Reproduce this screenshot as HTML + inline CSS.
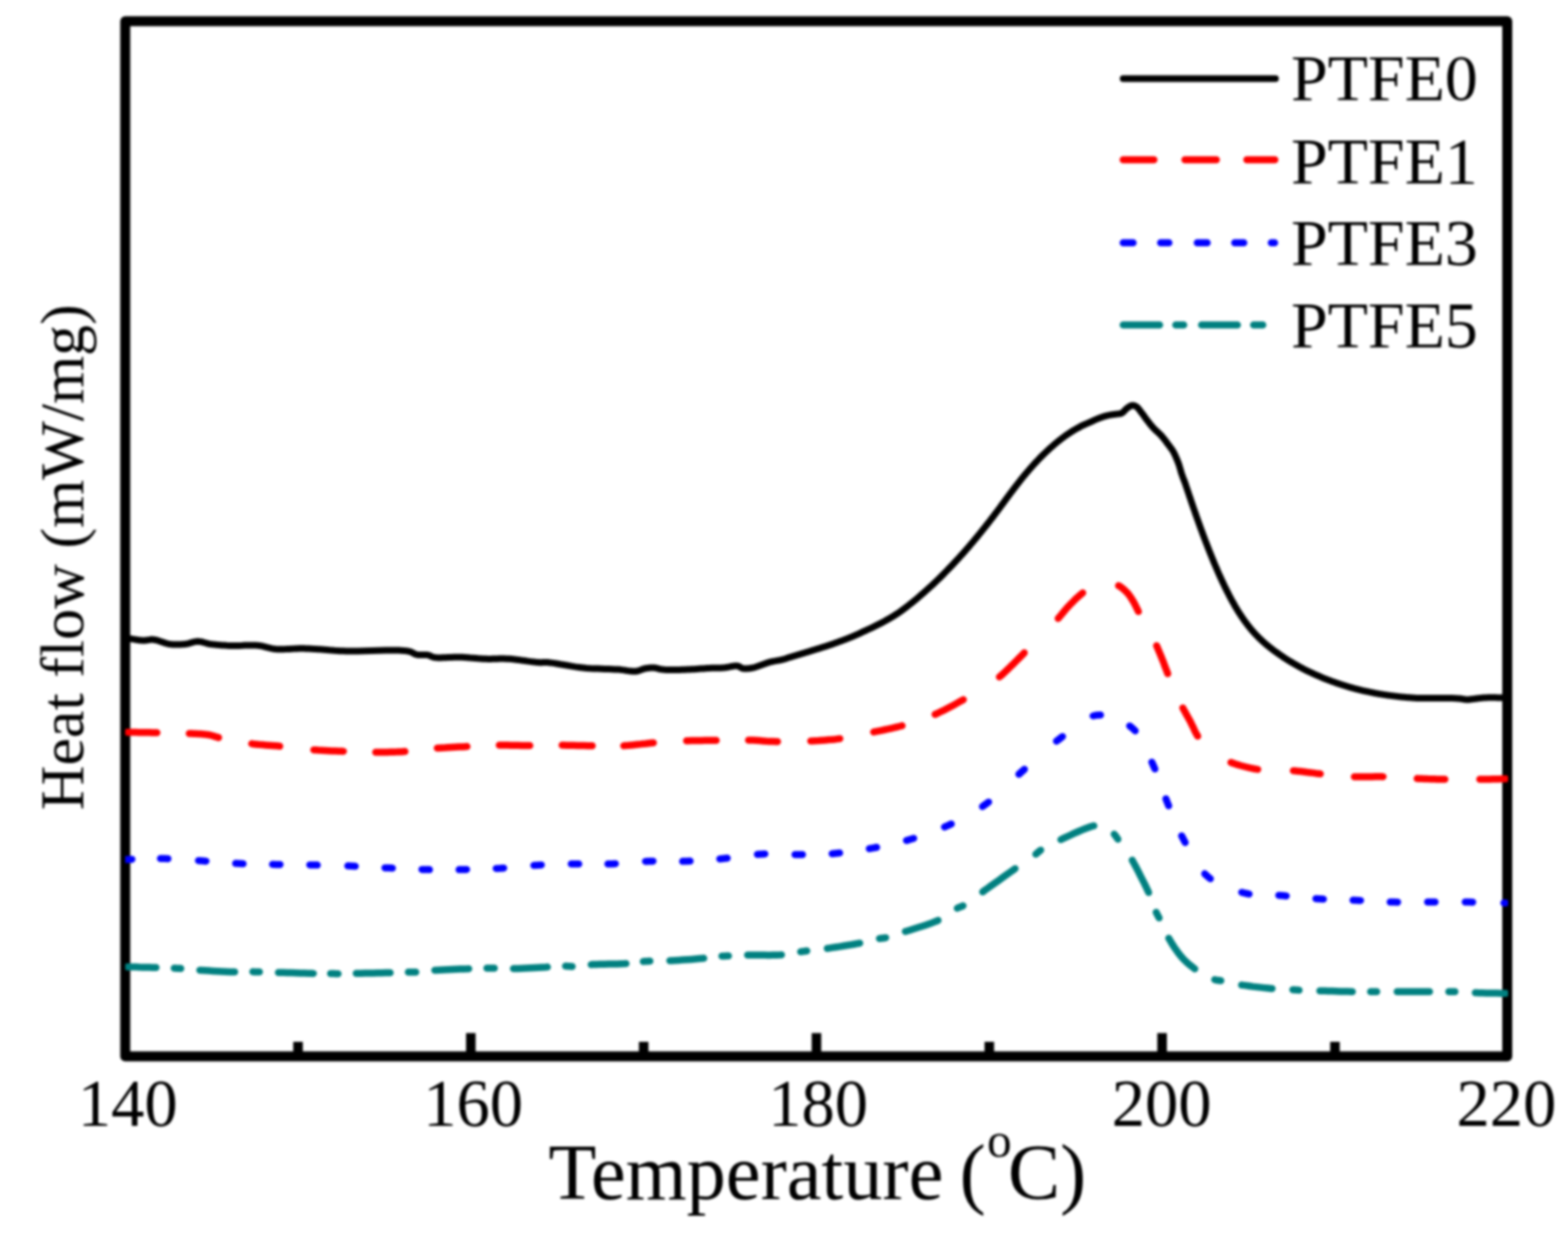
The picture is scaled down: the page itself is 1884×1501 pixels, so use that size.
<!DOCTYPE html>
<html><head><meta charset="utf-8"><title>Heat flow vs Temperature</title>
<style>
html,body{margin:0;padding:0;background:#fff;}
body{width:1884px;height:1501px;overflow:hidden;}
svg{display:block;filter:blur(1.8px);}
text{font-family:"Liberation Serif","Times New Roman",serif;fill:#000;}
</style></head>
<body>
<svg width="1884" height="1501" viewBox="0 0 1884 1501">
<rect x="0" y="0" width="1884" height="1501" fill="#fff"/>
<g fill="none" stroke="#000" stroke-linecap="round" stroke-linejoin="round">
<rect x="150.5" y="25.6" width="1660.5" height="1243.9" stroke-width="12"/>
<path d="M565.7 1269.5V1241.5M981 1269.5V1241.5M1396.3 1269.5V1241.5M358.1 1269.5V1252M773.4 1269.5V1252M1188.7 1269.5V1252M1604 1269.5V1252" stroke-width="11.5" stroke-linecap="butt"/>
</g>

<defs><clipPath id="pc"><rect x="150.5" y="0" width="1661.5" height="1501"/></clipPath></defs>
<g fill="none" stroke-linecap="round" stroke-linejoin="round" clip-path="url(#pc)">
<path d="M150.5 767.5 L151.0 767.5 L151.6 767.5 L152.1 767.5 L152.6 767.5 L153.1 767.5 L153.6 767.5 L154.1 767.5 L154.7 767.5 L155.3 767.6 L156.0 767.6 L157.3 767.7 L158.7 767.9 L160.2 768.2 L161.8 768.4 L163.5 768.7 L165.2 769.0 L166.9 769.2 L168.6 769.5 L170.2 769.6 L171.8 769.7 L173.1 769.7 L174.4 769.6 L175.7 769.5 L176.9 769.3 L178.1 769.1 L179.4 768.9 L180.6 768.7 L181.9 768.6 L183.2 768.6 L184.6 768.7 L186.4 769.0 L188.2 769.4 L190.1 769.9 L192.0 770.6 L193.9 771.2 L195.9 771.9 L197.8 772.6 L199.8 773.2 L201.8 773.7 L203.7 774.0 L205.6 774.2 L207.5 774.4 L209.5 774.5 L211.4 774.6 L213.4 774.6 L215.3 774.5 L217.2 774.4 L219.1 774.3 L221.0 774.2 L222.8 774.0 L224.4 773.8 L225.9 773.5 L227.4 773.1 L228.9 772.6 L230.4 772.2 L231.8 771.8 L233.3 771.4 L234.8 771.1 L236.2 770.9 L237.7 770.8 L239.2 770.9 L240.6 771.1 L242.0 771.3 L243.4 771.7 L244.8 772.1 L246.3 772.5 L247.8 772.9 L249.3 773.4 L250.9 773.7 L252.5 774.0 L254.8 774.3 L257.1 774.6 L259.5 774.8 L262.1 775.1 L264.6 775.3 L267.3 775.5 L269.9 775.6 L272.6 775.8 L275.3 775.9 L278.0 776.0 L281.1 776.1 L284.3 776.0 L287.5 775.9 L290.8 775.8 L294.2 775.6 L297.5 775.5 L300.7 775.4 L303.9 775.4 L307.0 775.5 L309.9 775.7 L312.2 776.0 L314.3 776.4 L316.4 776.8 L318.4 777.3 L320.4 777.9 L322.4 778.4 L324.5 778.9 L326.6 779.4 L328.7 779.7 L331.0 780.0 L334.0 780.2 L337.1 780.2 L340.3 780.2 L343.6 780.1 L347.0 779.9 L350.4 779.7 L353.7 779.6 L356.9 779.4 L360.0 779.3 L363.0 779.3 L365.3 779.3 L367.4 779.4 L369.5 779.5 L371.5 779.6 L373.5 779.7 L375.5 779.8 L377.5 779.9 L379.6 780.0 L381.7 780.2 L384.0 780.3 L386.9 780.5 L389.8 780.7 L392.7 780.9 L395.7 781.2 L398.8 781.4 L401.9 781.7 L405.2 781.9 L408.6 782.2 L412.2 782.3 L416.0 782.5 L422.5 782.6 L429.9 782.5 L438.0 782.3 L446.6 782.1 L455.2 781.8 L463.7 781.6 L471.7 781.5 L479.0 781.6 L485.2 781.9 L490.0 782.5 L491.5 782.8 L492.9 783.2 L494.0 783.7 L495.1 784.2 L496.1 784.7 L497.0 785.2 L497.9 785.6 L498.9 786.1 L499.9 786.4 L501.0 786.7 L502.2 786.9 L503.5 787.0 L504.8 787.0 L506.1 787.0 L507.5 786.9 L508.8 786.9 L510.1 786.9 L511.3 786.9 L512.5 786.9 L513.7 787.1 L514.6 787.3 L515.4 787.6 L516.2 787.9 L516.9 788.2 L517.6 788.5 L518.4 788.9 L519.2 789.2 L520.0 789.5 L521.0 789.8 L522.0 790.0 L524.2 790.3 L526.7 790.4 L529.5 790.4 L532.5 790.3 L535.7 790.2 L538.9 790.0 L542.2 789.9 L545.5 789.7 L548.7 789.7 L551.8 789.7 L555.0 789.8 L558.1 790.0 L561.4 790.2 L564.6 790.5 L567.8 790.7 L571.1 791.0 L574.3 791.3 L577.4 791.5 L580.6 791.7 L583.7 791.8 L586.5 791.9 L589.3 791.9 L592.0 791.8 L594.7 791.8 L597.4 791.7 L600.1 791.6 L602.8 791.6 L605.6 791.6 L608.4 791.7 L611.3 791.8 L614.8 792.1 L618.6 792.5 L622.5 792.9 L626.4 793.5 L630.4 794.0 L634.3 794.6 L638.0 795.1 L641.5 795.5 L644.6 795.9 L647.4 796.1 L648.7 796.2 L649.8 796.2 L650.8 796.2 L651.8 796.1 L652.7 796.1 L653.6 796.0 L654.5 796.0 L655.5 796.0 L656.7 796.0 L658.0 796.1 L661.1 796.4 L664.7 796.9 L668.7 797.5 L673.0 798.3 L677.5 799.0 L682.1 799.8 L686.8 800.6 L691.5 801.4 L696.1 802.0 L700.5 802.5 L704.8 802.9 L709.2 803.2 L713.7 803.4 L718.2 803.6 L722.7 803.8 L727.1 803.9 L731.3 804.0 L735.4 804.2 L739.4 804.4 L743.0 804.6 L745.4 804.8 L747.8 805.1 L750.1 805.4 L752.3 805.8 L754.4 806.1 L756.5 806.4 L758.5 806.6 L760.4 806.8 L762.2 806.8 L764.0 806.7 L765.2 806.5 L766.4 806.3 L767.5 806.0 L768.6 805.6 L769.6 805.2 L770.7 804.8 L771.7 804.4 L772.7 804.1 L773.7 803.7 L774.8 803.5 L775.9 803.3 L776.9 803.1 L778.0 803.0 L779.0 802.8 L780.1 802.7 L781.2 802.6 L782.2 802.5 L783.3 802.5 L784.3 802.5 L785.4 802.5 L786.4 802.6 L787.4 802.7 L788.4 803.0 L789.4 803.2 L790.4 803.5 L791.4 803.7 L792.4 804.0 L793.5 804.2 L794.7 804.4 L796.0 804.6 L798.4 804.8 L801.0 804.9 L803.8 805.0 L806.9 805.0 L810.0 805.0 L813.2 804.9 L816.4 804.9 L819.6 804.8 L822.7 804.7 L825.7 804.6 L828.5 804.5 L831.3 804.3 L834.1 804.2 L836.9 804.0 L839.7 803.8 L842.4 803.6 L845.1 803.4 L847.7 803.2 L850.3 803.0 L852.7 802.9 L854.6 802.8 L856.4 802.8 L858.1 802.8 L859.8 802.8 L861.5 802.8 L863.1 802.8 L864.8 802.7 L866.4 802.7 L868.0 802.6 L869.7 802.5 L871.4 802.3 L873.1 802.0 L874.8 801.7 L876.6 801.4 L878.3 801.0 L880.0 800.7 L881.6 800.4 L883.1 800.3 L884.6 800.2 L885.9 800.3 L886.7 800.5 L887.4 800.7 L888.1 801.0 L888.8 801.4 L889.4 801.8 L890.0 802.2 L890.6 802.5 L891.2 802.8 L891.9 803.1 L892.7 803.3 L893.7 803.4 L894.8 803.5 L895.9 803.5 L897.0 803.5 L898.2 803.4 L899.4 803.3 L900.6 803.2 L901.9 803.0 L903.2 802.7 L904.5 802.5 L906.3 802.1 L908.3 801.5 L910.3 800.8 L912.4 800.1 L914.6 799.3 L916.7 798.5 L918.8 797.7 L920.9 796.9 L922.9 796.3 L924.9 795.7 L926.5 795.3 L928.1 795.0 L929.7 794.6 L931.2 794.4 L932.8 794.1 L934.3 793.8 L935.8 793.6 L937.2 793.3 L938.6 793.0 L940.0 792.7 L941.1 792.4 L942.1 792.1 L943.2 791.8 L944.2 791.5 L945.1 791.2 L946.1 790.9 L947.1 790.5 L948.0 790.2 L949.0 789.9 L950.0 789.6 L951.0 789.3 L952.0 789.0 L953.0 788.7 L954.0 788.4 L955.0 788.1 L956.0 787.8 L957.0 787.5 L958.0 787.2 L959.0 786.9 L960.0 786.6 L961.0 786.3 L962.0 786.0 L963.0 785.7 L964.0 785.4 L965.0 785.1 L966.0 784.8 L967.0 784.5 L968.0 784.2 L969.0 783.9 L970.0 783.6 L971.0 783.3 L972.0 783.0 L973.0 782.7 L974.0 782.4 L975.0 782.1 L976.0 781.7 L977.0 781.4 L978.0 781.1 L979.0 780.8 L980.0 780.5 L981.0 780.2 L982.0 779.9 L983.0 779.6 L984.0 779.3 L985.0 779.0 L986.0 778.7 L987.0 778.3 L988.0 778.0 L989.0 777.7 L990.0 777.4 L991.0 777.1 L992.0 776.8 L993.0 776.4 L994.0 776.1 L995.0 775.8 L996.0 775.4 L997.0 775.1 L998.0 774.8 L999.0 774.4 L1000.0 774.1 L1001.0 773.8 L1002.0 773.4 L1003.0 773.0 L1004.0 772.7 L1005.0 772.3 L1006.0 772.0 L1007.0 771.6 L1008.0 771.2 L1009.0 770.9 L1010.0 770.5 L1011.0 770.1 L1012.0 769.8 L1013.0 769.4 L1014.0 769.0 L1015.0 768.6 L1016.0 768.3 L1017.0 767.9 L1018.0 767.5 L1019.0 767.1 L1020.0 766.7 L1021.0 766.3 L1022.0 765.9 L1023.0 765.5 L1024.0 765.1 L1025.0 764.7 L1026.0 764.2 L1027.0 763.8 L1028.0 763.4 L1029.0 762.9 L1030.0 762.5 L1031.0 762.0 L1032.0 761.6 L1033.0 761.1 L1034.0 760.6 L1035.0 760.2 L1036.0 759.7 L1037.0 759.2 L1038.0 758.7 L1039.0 758.3 L1040.0 757.8 L1041.0 757.3 L1042.0 756.9 L1043.0 756.4 L1044.0 756.0 L1045.0 755.5 L1046.0 755.1 L1047.0 754.6 L1048.0 754.1 L1049.0 753.7 L1050.0 753.2 L1051.0 752.7 L1052.0 752.2 L1053.0 751.7 L1054.0 751.2 L1055.0 750.7 L1056.0 750.2 L1057.0 749.7 L1058.0 749.2 L1059.0 748.6 L1060.0 748.1 L1061.0 747.6 L1062.0 747.0 L1063.0 746.5 L1064.0 745.9 L1065.0 745.4 L1066.0 744.8 L1067.0 744.2 L1068.0 743.7 L1069.0 743.1 L1070.0 742.5 L1071.0 741.9 L1072.0 741.3 L1073.0 740.7 L1074.0 740.1 L1075.0 739.4 L1076.0 738.8 L1077.0 738.2 L1078.0 737.5 L1079.0 736.9 L1080.0 736.2 L1081.0 735.5 L1082.0 734.8 L1083.0 734.1 L1084.0 733.3 L1085.0 732.6 L1086.0 731.8 L1087.0 731.1 L1088.0 730.3 L1089.0 729.6 L1090.0 728.8 L1091.0 728.0 L1092.0 727.2 L1093.0 726.5 L1094.0 725.7 L1095.0 724.9 L1096.0 724.1 L1097.0 723.3 L1098.0 722.4 L1099.0 721.6 L1100.0 720.8 L1101.0 720.0 L1102.0 719.1 L1103.0 718.3 L1104.0 717.4 L1105.0 716.5 L1106.0 715.7 L1107.0 714.8 L1108.0 713.9 L1109.0 713.1 L1110.0 712.2 L1111.0 711.3 L1112.0 710.4 L1113.0 709.5 L1114.0 708.6 L1115.0 707.7 L1116.0 706.8 L1117.0 705.9 L1118.0 705.0 L1119.0 704.1 L1120.0 703.2 L1121.0 702.3 L1122.0 701.3 L1123.0 700.4 L1124.0 699.4 L1125.0 698.5 L1126.0 697.5 L1127.0 696.5 L1128.0 695.6 L1129.0 694.6 L1130.0 693.6 L1131.0 692.6 L1132.0 691.6 L1133.0 690.6 L1134.0 689.6 L1135.0 688.5 L1136.0 687.5 L1137.0 686.5 L1138.0 685.5 L1139.0 684.4 L1140.0 683.4 L1141.0 682.4 L1142.0 681.3 L1143.0 680.3 L1144.0 679.2 L1145.0 678.1 L1146.0 677.1 L1147.0 676.0 L1148.0 674.9 L1149.0 673.9 L1150.0 672.8 L1151.0 671.7 L1152.0 670.6 L1153.0 669.5 L1154.0 668.4 L1155.0 667.3 L1156.0 666.2 L1157.0 665.1 L1158.0 664.0 L1159.0 662.8 L1160.0 661.7 L1161.0 660.5 L1162.0 659.4 L1163.0 658.2 L1164.0 657.1 L1165.0 655.9 L1166.0 654.7 L1167.0 653.5 L1168.0 652.4 L1169.0 651.2 L1170.0 650.0 L1171.0 648.8 L1172.0 647.6 L1173.0 646.4 L1174.0 645.2 L1175.0 643.9 L1176.0 642.7 L1177.0 641.5 L1178.0 640.3 L1179.0 639.0 L1180.0 637.8 L1181.0 636.5 L1182.0 635.3 L1183.0 634.0 L1184.0 632.8 L1185.0 631.5 L1186.0 630.2 L1187.0 628.9 L1188.0 627.7 L1189.0 626.4 L1190.0 625.1 L1191.0 623.8 L1192.0 622.5 L1193.0 621.2 L1194.0 619.9 L1195.0 618.5 L1196.0 617.2 L1197.0 615.9 L1198.0 614.6 L1199.0 613.2 L1200.0 611.9 L1201.0 610.6 L1202.0 609.2 L1203.0 607.8 L1204.0 606.5 L1205.0 605.1 L1206.0 603.7 L1207.0 602.4 L1208.0 601.0 L1209.0 599.7 L1210.0 598.3 L1211.0 597.0 L1212.0 595.6 L1213.0 594.3 L1214.0 592.9 L1215.0 591.6 L1216.0 590.3 L1217.0 589.0 L1218.0 587.6 L1219.0 586.3 L1220.0 585.0 L1221.0 583.7 L1222.0 582.4 L1223.0 581.1 L1224.0 579.9 L1225.0 578.6 L1226.0 577.3 L1227.0 576.0 L1228.0 574.8 L1229.0 573.5 L1230.0 572.3 L1231.0 571.1 L1232.0 569.9 L1233.0 568.7 L1234.0 567.5 L1235.0 566.4 L1236.0 565.2 L1237.0 564.0 L1238.0 562.9 L1239.0 561.7 L1240.0 560.6 L1241.0 559.5 L1242.0 558.4 L1243.0 557.3 L1244.0 556.2 L1245.0 555.2 L1246.0 554.1 L1247.0 553.0 L1248.0 552.0 L1249.0 550.9 L1250.0 549.9 L1251.0 548.9 L1252.0 547.9 L1253.0 546.9 L1254.0 545.9 L1255.0 545.0 L1256.0 544.0 L1257.0 543.0 L1258.0 542.1 L1259.0 541.1 L1260.0 540.2 L1261.0 539.3 L1262.0 538.4 L1263.0 537.5 L1264.0 536.6 L1265.0 535.8 L1266.0 534.9 L1267.0 534.0 L1268.0 533.2 L1269.0 532.3 L1270.0 531.5 L1271.0 530.7 L1272.0 529.9 L1273.0 529.1 L1274.0 528.3 L1275.0 527.5 L1276.0 526.8 L1277.0 526.0 L1278.0 525.3 L1279.0 524.5 L1280.0 523.8 L1281.0 523.1 L1282.0 522.4 L1283.0 521.7 L1284.0 521.0 L1285.0 520.4 L1286.0 519.7 L1287.0 519.1 L1288.0 518.4 L1289.0 517.8 L1290.0 517.2 L1291.0 516.6 L1292.0 516.0 L1293.0 515.5 L1294.0 514.9 L1295.0 514.3 L1296.0 513.8 L1297.0 513.3 L1298.0 512.7 L1299.0 512.2 L1300.0 511.7 L1301.0 511.2 L1302.0 510.7 L1303.0 510.3 L1304.0 509.8 L1305.0 509.4 L1306.0 509.0 L1307.0 508.5 L1308.0 508.1 L1309.0 507.6 L1310.0 507.2 L1311.0 506.8 L1312.0 506.3 L1313.0 505.8 L1314.0 505.4 L1315.0 504.9 L1316.0 504.5 L1317.0 504.0 L1318.0 503.6 L1319.0 503.2 L1320.0 502.8 L1321.0 502.4 L1322.0 502.1 L1323.0 501.7 L1324.0 501.3 L1325.0 501.0 L1326.0 500.7 L1327.0 500.3 L1328.0 500.0 L1329.0 499.8 L1330.0 499.5 L1331.0 499.3 L1332.0 499.1 L1333.0 498.9 L1334.0 498.7 L1335.1 498.5 L1336.1 498.4 L1337.1 498.2 L1338.1 498.1 L1339.1 498.0 L1340.0 497.8 L1340.8 497.7 L1341.6 497.6 L1342.4 497.5 L1343.2 497.5 L1344.0 497.4 L1344.8 497.3 L1345.5 497.2 L1346.3 497.0 L1347.0 496.8 L1347.7 496.5 L1348.4 496.1 L1349.1 495.6 L1349.8 495.0 L1350.4 494.3 L1351.1 493.6 L1351.7 492.9 L1352.4 492.3 L1353.0 491.6 L1353.6 491.0 L1354.3 490.5 L1354.9 490.1 L1355.5 489.7 L1356.1 489.2 L1356.7 488.8 L1357.3 488.5 L1357.9 488.1 L1358.5 487.8 L1359.1 487.6 L1359.7 487.4 L1360.3 487.3 L1360.8 487.3 L1361.3 487.3 L1361.9 487.3 L1362.4 487.4 L1362.9 487.5 L1363.4 487.7 L1363.9 487.9 L1364.4 488.1 L1364.9 488.4 L1365.4 488.7 L1366.1 489.2 L1366.8 489.8 L1367.4 490.5 L1368.1 491.3 L1368.7 492.1 L1369.4 493.0 L1370.0 493.9 L1370.7 494.8 L1371.3 495.6 L1372.0 496.5 L1372.7 497.4 L1373.4 498.3 L1374.1 499.3 L1374.8 500.3 L1375.5 501.2 L1376.2 502.2 L1376.9 503.2 L1377.6 504.1 L1378.3 505.1 L1379.0 506.0 L1379.7 506.9 L1380.4 507.7 L1381.0 508.6 L1381.7 509.5 L1382.4 510.3 L1383.1 511.1 L1383.8 512.0 L1384.5 512.8 L1385.2 513.7 L1386.0 514.5 L1386.9 515.4 L1387.8 516.3 L1388.7 517.2 L1389.6 518.1 L1390.6 518.9 L1391.6 519.8 L1392.5 520.7 L1393.5 521.6 L1394.4 522.5 L1395.3 523.5 L1396.2 524.5 L1397.0 525.5 L1397.9 526.6 L1398.7 527.6 L1399.6 528.7 L1400.4 529.8 L1401.2 530.8 L1402.0 531.9 L1402.7 533.0 L1403.5 534.0 L1404.2 534.9 L1404.9 535.8 L1405.6 536.7 L1406.2 537.6 L1406.9 538.5 L1407.5 539.4 L1408.2 540.3 L1408.8 541.3 L1409.4 542.3 L1410.0 543.3 L1410.7 544.5 L1411.3 545.8 L1412.0 547.2 L1412.6 548.6 L1413.2 550.0 L1413.8 551.4 L1414.4 552.8 L1414.9 554.2 L1415.5 555.6 L1416.0 557.0 L1416.5 558.3 L1416.9 559.6 L1417.3 560.9 L1417.7 562.3 L1418.1 563.6 L1418.5 564.9 L1418.8 566.2 L1419.2 567.5 L1419.6 568.8 L1420.0 570.0 L1420.4 571.1 L1420.8 572.2 L1421.1 573.2 L1421.5 574.2 L1421.9 575.2 L1422.3 576.2 L1422.7 577.3 L1423.1 578.4 L1423.6 579.6 L1424.0 580.8 L1424.7 582.8 L1425.4 585.0 L1426.2 587.3 L1427.0 589.7 L1427.8 592.1 L1428.7 594.7 L1429.5 597.2 L1430.4 599.7 L1431.2 602.2 L1432.0 604.6 L1432.8 606.9 L1433.6 609.2 L1434.4 611.5 L1435.2 613.8 L1436.0 616.1 L1436.8 618.4 L1437.6 620.7 L1438.4 623.0 L1439.2 625.2 L1440.0 627.5 L1440.8 629.7 L1441.6 631.9 L1442.4 634.1 L1443.2 636.3 L1444.0 638.4 L1444.8 640.6 L1445.6 642.8 L1446.4 644.9 L1447.2 647.1 L1448.0 649.2 L1448.8 651.3 L1449.6 653.3 L1450.4 655.4 L1451.2 657.5 L1452.0 659.5 L1452.8 661.5 L1453.6 663.6 L1454.4 665.6 L1455.2 667.6 L1456.0 669.6 L1456.8 671.5 L1457.6 673.4 L1458.4 675.4 L1459.2 677.3 L1460.0 679.2 L1460.8 681.0 L1461.6 682.9 L1462.4 684.8 L1463.2 686.7 L1464.0 688.5 L1464.8 690.3 L1465.6 692.0 L1466.4 693.8 L1467.2 695.5 L1468.0 697.3 L1468.8 699.0 L1469.6 700.7 L1470.4 702.4 L1471.2 704.1 L1472.0 705.8 L1472.8 707.4 L1473.6 709.0 L1474.4 710.6 L1475.2 712.2 L1476.0 713.7 L1476.8 715.3 L1477.6 716.8 L1478.4 718.4 L1479.2 719.9 L1480.0 721.4 L1480.8 722.8 L1481.6 724.2 L1482.4 725.6 L1483.2 727.0 L1483.9 728.4 L1484.8 729.8 L1485.6 731.1 L1486.4 732.5 L1487.2 733.8 L1488.0 735.1 L1488.8 736.3 L1489.6 737.6 L1490.4 738.8 L1491.2 740.0 L1491.9 741.2 L1492.8 742.4 L1493.6 743.6 L1494.4 744.7 L1495.2 745.9 L1496.0 747.0 L1496.8 748.1 L1497.6 749.1 L1498.4 750.2 L1499.2 751.2 L1500.0 752.2 L1500.8 753.3 L1501.6 754.3 L1502.4 755.3 L1503.2 756.2 L1504.0 757.2 L1504.8 758.1 L1505.6 759.0 L1506.4 759.9 L1507.2 760.8 L1508.0 761.6 L1508.8 762.5 L1509.6 763.3 L1510.4 764.2 L1511.2 765.0 L1512.0 765.8 L1512.8 766.6 L1513.6 767.4 L1514.4 768.1 L1515.2 768.9 L1516.0 769.7 L1516.8 770.4 L1517.6 771.1 L1518.4 771.9 L1519.2 772.6 L1520.0 773.3 L1520.8 774.0 L1521.6 774.7 L1522.4 775.3 L1523.2 776.0 L1524.0 776.6 L1524.8 777.3 L1525.6 777.9 L1526.4 778.5 L1527.2 779.2 L1528.0 779.8 L1528.8 780.4 L1529.6 781.0 L1530.4 781.6 L1531.2 782.2 L1532.0 782.8 L1532.8 783.3 L1533.6 783.9 L1534.4 784.5 L1535.2 785.0 L1536.0 785.6 L1536.8 786.2 L1537.6 786.7 L1538.4 787.3 L1539.2 787.8 L1540.0 788.4 L1540.8 788.9 L1541.6 789.5 L1542.4 790.0 L1543.2 790.6 L1544.0 791.1 L1544.8 791.6 L1545.6 792.1 L1546.4 792.6 L1547.2 793.1 L1548.0 793.6 L1548.8 794.1 L1549.6 794.6 L1550.4 795.0 L1551.2 795.5 L1552.0 796.0 L1552.8 796.5 L1553.6 796.9 L1554.4 797.4 L1555.2 797.9 L1556.0 798.3 L1556.8 798.8 L1557.6 799.2 L1558.4 799.7 L1559.2 800.2 L1560.0 800.6 L1560.8 801.0 L1561.6 801.5 L1562.4 801.9 L1563.2 802.4 L1564.0 802.8 L1564.8 803.2 L1565.6 803.7 L1566.4 804.1 L1567.2 804.5 L1568.0 804.9 L1568.8 805.3 L1569.6 805.7 L1570.4 806.1 L1571.2 806.5 L1572.0 806.8 L1572.8 807.2 L1573.6 807.6 L1574.4 808.0 L1575.2 808.3 L1576.0 808.7 L1576.8 809.1 L1577.6 809.4 L1578.4 809.8 L1579.2 810.2 L1580.0 810.5 L1580.8 810.9 L1581.6 811.2 L1582.4 811.6 L1583.2 811.9 L1584.0 812.3 L1584.8 812.6 L1585.6 813.0 L1586.4 813.3 L1587.2 813.7 L1588.0 814.0 L1588.8 814.4 L1589.6 814.7 L1590.4 815.0 L1591.2 815.4 L1592.0 815.7 L1592.8 816.0 L1593.6 816.3 L1594.4 816.6 L1595.2 816.9 L1596.0 817.2 L1596.8 817.5 L1597.6 817.8 L1598.4 818.1 L1599.2 818.4 L1600.0 818.7 L1600.8 819.0 L1601.6 819.3 L1602.4 819.6 L1603.2 819.8 L1604.0 820.1 L1604.8 820.4 L1605.6 820.7 L1606.4 821.0 L1607.2 821.2 L1608.0 821.5 L1608.8 821.8 L1609.6 822.0 L1610.4 822.3 L1611.2 822.6 L1612.0 822.8 L1612.8 823.1 L1613.6 823.3 L1614.4 823.6 L1615.2 823.8 L1616.0 824.1 L1616.8 824.3 L1617.6 824.6 L1618.4 824.8 L1619.2 825.1 L1620.0 825.3 L1620.8 825.6 L1621.6 825.8 L1622.4 826.0 L1623.2 826.3 L1624.0 826.5 L1624.8 826.7 L1625.6 826.9 L1626.4 827.2 L1627.2 827.4 L1628.0 827.6 L1628.8 827.8 L1629.6 828.0 L1630.4 828.2 L1631.2 828.4 L1632.0 828.6 L1632.8 828.8 L1633.6 829.0 L1634.4 829.2 L1635.2 829.4 L1636.0 829.6 L1636.8 829.8 L1637.6 830.0 L1638.4 830.1 L1639.2 830.3 L1640.0 830.5 L1640.8 830.7 L1641.6 830.9 L1642.4 831.0 L1643.2 831.2 L1644.0 831.4 L1644.8 831.5 L1645.6 831.7 L1646.4 831.9 L1647.2 832.0 L1648.0 832.2 L1648.8 832.4 L1649.6 832.5 L1650.4 832.7 L1651.2 832.8 L1652.0 833.0 L1652.8 833.1 L1653.6 833.3 L1654.4 833.4 L1655.2 833.6 L1656.0 833.7 L1656.8 833.8 L1657.6 834.0 L1658.4 834.1 L1659.2 834.2 L1660.0 834.4 L1660.8 834.5 L1661.6 834.6 L1662.4 834.8 L1663.2 834.9 L1664.0 835.0 L1664.8 835.1 L1665.6 835.2 L1666.4 835.3 L1667.2 835.5 L1668.0 835.6 L1668.8 835.7 L1669.6 835.8 L1670.4 835.9 L1671.2 836.0 L1672.0 836.1 L1672.8 836.2 L1673.6 836.3 L1674.4 836.4 L1675.2 836.5 L1676.0 836.6 L1676.8 836.7 L1677.6 836.8 L1678.4 836.9 L1679.2 837.0 L1680.0 837.1 L1680.8 837.2 L1681.6 837.3 L1682.4 837.4 L1683.2 837.4 L1684.0 837.5 L1684.8 837.6 L1685.6 837.7 L1686.4 837.8 L1687.2 837.8 L1688.0 837.9 L1688.8 838.0 L1689.6 838.0 L1690.4 838.1 L1691.2 838.2 L1692.0 838.2 L1692.8 838.3 L1693.6 838.3 L1694.4 838.4 L1695.2 838.4 L1696.0 838.5 L1696.8 838.6 L1697.5 838.6 L1698.2 838.7 L1698.9 838.7 L1699.6 838.8 L1700.3 838.8 L1701.1 838.9 L1702.0 838.9 L1702.9 839.0 L1704.0 839.0 L1707.4 839.1 L1711.7 839.1 L1716.7 839.1 L1722.2 839.1 L1728.0 839.1 L1733.8 839.1 L1739.4 839.1 L1744.6 839.1 L1749.0 839.2 L1752.6 839.4 L1753.9 839.5 L1755.1 839.7 L1756.1 839.8 L1757.0 840.0 L1757.9 840.2 L1758.8 840.3 L1759.7 840.5 L1760.6 840.6 L1761.6 840.7 L1762.7 840.7 L1764.4 840.7 L1766.2 840.5 L1768.1 840.3 L1770.1 840.1 L1772.2 839.8 L1774.2 839.5 L1776.4 839.2 L1778.5 838.9 L1780.7 838.7 L1782.9 838.5 L1785.5 838.4 L1788.2 838.3 L1791.0 838.3 L1793.8 838.3 L1796.7 838.3 L1799.5 838.4 L1802.4 838.4 L1805.3 838.5 L1808.2 838.5 L1811.0 838.5" stroke="#000" stroke-width="8"/>
<path d="M152.9 880.0 L154.6 880.0 L158.7 880.1 L162.8 880.1 L166.9 880.2 L171.0 880.2 L175.1 880.3 L179.1 880.3 L183.1 880.4 L187.1 880.4 L188.6 880.5 M227.4 881.5 L227.7 881.5 L230.4 881.6 L233.0 881.7 L235.6 881.8 L238.2 881.9 L240.7 882.0 L243.1 882.2 L245.5 882.4 L247.8 882.7 L250.0 883.0 L251.6 883.3 L253.2 883.6 L254.6 884.0 L256.0 884.4 L257.4 884.8 L258.7 885.3 L260.2 885.7 L261.7 886.1 L262.6 886.4 M302.4 893.8 L303.8 894.0 L307.6 894.4 L311.4 894.8 L315.3 895.1 L319.2 895.4 L323.1 895.7 L327.0 896.0 L330.8 896.3 L334.7 896.6 L336.1 896.8 M377.0 901.2 L378.6 901.3 L382.6 901.6 L386.7 901.8 L390.8 902.0 L394.9 902.2 L399.0 902.4 L403.1 902.5 L407.1 902.7 L411.1 902.8 L412.6 902.9 M451.4 904.0 L452.9 904.0 L456.8 904.0 L460.9 904.0 L464.9 903.9 L469.0 903.8 L473.1 903.7 L477.1 903.6 L481.2 903.4 L485.1 903.2 L486.6 903.1 M525.4 899.1 L526.9 899.0 L530.9 898.7 L535.0 898.5 L539.1 898.2 L543.2 898.0 L547.4 897.8 L551.5 897.6 L555.6 897.4 L559.6 897.2 L561.1 897.1 M599.9 895.6 L601.5 895.6 L605.6 895.6 L609.8 895.6 L614.0 895.7 L618.2 895.7 L622.5 895.8 L626.7 895.9 L630.9 895.9 L635.0 896.0 L636.6 896.0 M675.4 895.6 L677.0 895.6 L681.0 895.7 L685.2 895.7 L689.3 895.8 L693.5 895.9 L697.7 896.0 L701.9 896.1 L706.0 896.2 L710.1 896.3 L711.6 896.3 M749.4 896.2 L750.9 896.1 L754.9 895.8 L758.9 895.4 L763.0 895.0 L767.2 894.6 L771.3 894.1 L775.4 893.7 L779.5 893.2 L783.5 892.8 L785.1 892.7 M824.9 890.2 L826.4 890.2 L830.5 890.1 L834.5 890.0 L838.7 889.9 L842.8 889.9 L846.9 889.8 L851.0 889.8 L855.1 889.8 L859.1 889.7 L860.6 889.7 M899.4 889.4 L900.8 889.4 L904.8 889.6 L908.7 889.8 L912.7 890.1 L916.8 890.4 L920.8 890.7 L924.8 890.9 L928.8 891.1 L932.7 891.3 L934.2 891.3 M974.1 890.5 L975.6 890.4 L979.5 890.2 L983.5 890.0 L987.6 889.7 L991.6 889.4 L995.6 889.1 L999.7 888.8 L1003.7 888.4 L1007.6 887.9 L1009.1 887.7 M1049.7 879.7 L1051.1 879.4 L1055.0 878.6 L1059.0 877.8 L1062.9 877.0 L1066.9 876.2 L1070.8 875.3 L1074.7 874.4 L1078.6 873.5 L1082.5 872.5 L1083.9 872.1 M1123.5 858.5 L1125.1 857.8 L1128.9 856.0 L1132.8 854.2 L1136.6 852.2 L1140.4 850.2 L1144.3 848.2 L1148.1 846.1 L1152.0 843.9 L1155.8 841.8 L1157.5 840.8 M1200.8 813.5 L1202.3 812.3 L1203.8 811.0 L1205.2 809.8 L1206.5 808.5 L1207.8 807.3 L1209.1 806.0 L1210.5 804.8 L1211.8 803.4 L1213.3 802.0 L1215.1 800.2 L1217.0 798.4 L1218.9 796.5 L1220.8 794.6 L1222.7 792.6 L1224.7 790.7 L1226.6 788.7 L1228.6 786.7 L1230.5 784.7 L1230.7 784.5 M1271.4 743.2 L1273.0 741.4 L1274.5 739.6 L1276.0 737.8 L1277.5 736.0 L1278.9 734.3 L1280.4 732.5 L1281.9 730.7 L1283.5 729.0 L1285.1 727.3 L1286.8 725.6 L1288.5 723.9 L1290.2 722.1 L1291.9 720.4 L1293.7 718.7 L1295.5 717.1 L1297.3 715.5 L1299.2 713.9 L1300.9 712.5 M1344.0 703.8 L1344.7 704.1 L1346.0 705.0 L1347.3 705.9 L1348.6 706.9 L1349.8 707.9 L1351.0 709.0 L1352.1 710.1 L1353.2 711.1 L1354.2 712.2 L1355.1 713.2 L1355.9 714.1 L1356.7 715.1 L1357.4 716.1 L1358.1 717.1 L1358.8 718.1 L1359.5 719.2 L1360.1 720.3 L1360.8 721.4 L1361.5 722.5 L1362.3 723.8 L1363.0 725.2 L1363.8 726.6 L1364.5 728.0 L1365.2 729.5 L1365.9 731.0 L1366.7 732.5 L1367.4 734.0 L1367.8 734.9 M1389.7 776.0 L1390.4 777.6 L1391.2 779.4 L1392.0 781.3 L1392.8 783.3 L1393.6 785.2 L1394.4 787.1 L1395.2 789.0 L1395.9 790.9 L1396.7 792.8 L1397.5 794.7 L1398.2 796.6 L1398.9 798.5 L1399.6 800.5 L1400.3 802.4 L1401.1 804.3 L1401.8 806.2 L1402.5 808.1 L1403.1 809.6 M1421.2 850.7 L1422.0 852.3 L1423.1 854.2 L1424.1 856.1 L1425.1 858.0 L1426.2 859.9 L1427.3 861.8 L1428.3 863.7 L1429.4 865.6 L1430.4 867.5 L1431.4 869.4 L1432.3 871.4 L1433.3 873.3 L1434.2 875.3 L1435.1 877.3 L1436.0 879.2 L1437.0 881.2 L1438.1 883.1 L1439.1 884.7 M1479.0 916.3 L1479.9 916.6 L1483.3 917.7 L1486.8 918.9 L1490.5 920.0 L1494.3 921.0 L1498.2 922.0 L1502.0 922.9 L1505.9 923.7 L1509.8 924.4 L1511.2 924.6 M1554.0 926.2 L1555.3 926.3 L1559.1 926.7 L1562.8 927.1 L1566.5 927.5 L1570.3 928.0 L1574.0 928.4 L1577.7 928.9 L1581.4 929.4 L1585.1 929.8 L1586.4 929.9 M1627.3 933.5 L1628.8 933.5 L1632.7 933.6 L1636.6 933.6 L1640.6 933.5 L1644.5 933.5 L1648.5 933.4 L1652.5 933.3 L1656.4 933.3 L1660.3 933.3 L1661.8 933.4 M1702.7 935.6 L1704.1 935.7 L1707.9 935.8 L1711.7 935.9 L1715.5 936.1 L1719.4 936.2 L1723.2 936.3 L1727.0 936.4 L1730.9 936.5 L1734.7 936.5 L1736.1 936.6 M1778.0 936.6 L1779.2 936.6 L1782.8 936.5 L1786.4 936.5 L1790.0 936.4 L1793.6 936.3 L1797.2 936.3 L1800.7 936.2 L1804.3 936.1 L1807.9 936.1 L1809.1 936.0" stroke="#f00" stroke-width="8.5"/>
<path d="M150.5 1032.9 L155.2 1032.8 L158.5 1032.7 M192.8 1031.8 L197.3 1031.8 L201.8 1031.9 M238.5 1034.3 L243.0 1034.6 L247.5 1034.9 L247.5 1034.9 M283.1 1037.6 L283.1 1037.6 L287.6 1037.8 L292.0 1038.0 L292.1 1038.0 M327.5 1038.8 L327.6 1038.8 L332.0 1038.9 L336.5 1039.0 L336.5 1039.0 M372.2 1039.4 L372.2 1039.4 L376.7 1039.5 L381.2 1039.6 M417.9 1040.6 L422.4 1040.8 L426.9 1041.0 L426.9 1041.0 M462.5 1042.9 L462.5 1042.9 L467.0 1043.1 L471.5 1043.3 L471.5 1043.3 M507.0 1044.9 L507.0 1044.9 L511.5 1045.0 L516.0 1045.1 L516.0 1045.1 M551.6 1045.1 L551.6 1045.1 L556.1 1045.0 L560.6 1044.9 L560.6 1044.9 M596.2 1043.7 L596.2 1043.7 L600.7 1043.5 L605.2 1043.2 M641.4 1040.0 L645.9 1039.7 L650.4 1039.5 M686.4 1038.3 L686.4 1038.3 L690.9 1038.2 L695.3 1038.2 L695.4 1038.2 M730.4 1038.3 L730.5 1038.3 L734.9 1038.2 L739.4 1038.0 M775.6 1035.2 L780.1 1035.0 L784.6 1034.9 L784.6 1034.9 M820.2 1035.1 L820.2 1035.1 L824.7 1035.0 L829.2 1034.8 L829.2 1034.8 M864.8 1032.2 L864.8 1032.2 L869.3 1031.8 L873.8 1031.3 M910.0 1026.7 L914.5 1026.4 L919.0 1026.2 M955.2 1027.1 L959.7 1027.1 L964.2 1027.1 L964.2 1027.1 M999.8 1025.9 L999.8 1025.9 L1004.3 1025.5 L1008.8 1025.1 L1008.8 1025.1 M1044.5 1019.9 L1048.9 1019.1 L1053.3 1018.3 M1089.2 1010.1 L1093.5 1008.8 L1097.8 1007.5 M1134.8 993.9 L1138.9 992.1 L1143.0 990.2 M1180.5 969.2 L1184.2 966.6 L1187.8 963.9 M1224.2 930.5 L1227.5 927.5 L1230.9 924.5 M1269.4 890.7 L1273.0 888.0 L1276.6 885.2 M1313.4 860.3 L1317.8 859.4 L1322.1 859.2 L1322.3 859.2 M1357.3 872.4 L1360.8 875.2 L1364.0 878.3 M1384.0 915.9 L1385.8 920.0 L1387.6 924.1 M1400.9 960.0 L1402.5 964.2 L1404.2 968.4 M1419.8 1004.5 L1421.9 1008.5 L1424.0 1012.5 M1447.5 1050.1 L1450.8 1053.2 L1454.3 1056.0 M1492.0 1072.4 L1496.4 1073.5 L1500.8 1074.4 L1500.8 1074.4 M1536.5 1076.0 L1536.5 1076.0 L1541.0 1076.3 L1545.5 1076.7 L1545.5 1076.7 M1581.1 1080.0 L1581.1 1080.0 L1585.6 1080.3 L1590.1 1080.6 L1590.1 1080.6 M1625.7 1081.8 L1625.7 1081.8 L1630.2 1082.0 L1634.7 1082.2 L1634.7 1082.2 M1670.3 1084.0 L1670.3 1084.0 L1674.8 1084.1 L1679.3 1084.2 L1679.3 1084.2 M1715.3 1084.1 L1719.8 1084.1 L1724.3 1084.1 M1760.5 1084.1 L1765.0 1084.1 L1769.5 1084.2 M1807.0 1085.1 L1809.0 1085.2" stroke="#00f" stroke-width="8.5"/>
<path d="M152.9 1161.9 L154.5 1161.9 L158.6 1162.0 L162.8 1162.1 L167.0 1162.3 L171.2 1162.4 L175.3 1162.5 L179.3 1162.6 L183.1 1162.7 L186.6 1162.8 L187.5 1162.8 M209.3 1163.6 L209.5 1163.6 L210.8 1163.6 L212.0 1163.7 L213.2 1163.7 L214.4 1163.7 L215.7 1163.8 L216.9 1163.8 L217.2 1163.9 M240.1 1165.9 L241.6 1166.0 L246.0 1166.3 L250.8 1166.6 L255.9 1166.9 L261.1 1167.2 L266.3 1167.5 L271.4 1167.7 L276.2 1168.0 L280.6 1168.1 L282.0 1168.1 M303.8 1167.8 L304.0 1167.8 L305.3 1167.9 L306.5 1167.9 L307.7 1168.0 L308.9 1168.0 L310.2 1168.1 L311.4 1168.1 L311.7 1168.1 M334.5 1168.7 L336.0 1168.7 L340.5 1168.8 L345.3 1169.0 L350.4 1169.1 L355.7 1169.3 L360.9 1169.5 L366.0 1169.6 L370.8 1169.7 L375.1 1169.8 L376.5 1169.9 M397.2 1170.0 L397.6 1170.0 L399.0 1170.0 L400.3 1170.1 L401.7 1170.1 L403.0 1170.2 L404.4 1170.2 L405.8 1170.3 L406.2 1170.3 M428.0 1169.8 L429.4 1169.8 L433.7 1169.7 L438.4 1169.6 L443.3 1169.5 L448.4 1169.4 L453.5 1169.3 L458.4 1169.2 L463.1 1169.1 L467.4 1169.0 L468.8 1169.0 M490.6 1168.2 L491.0 1168.2 L492.4 1168.2 L493.7 1168.2 L495.1 1168.3 L496.4 1168.3 L497.8 1168.3 L499.1 1168.3 L499.6 1168.3 M522.4 1166.1 L523.8 1166.0 L528.1 1165.8 L532.8 1165.5 L537.8 1165.3 L542.9 1165.0 L547.9 1164.8 L552.9 1164.6 L557.6 1164.4 L561.8 1164.3 L563.2 1164.2 M585.0 1163.5 L585.4 1163.5 L586.8 1163.4 L588.1 1163.4 L589.5 1163.4 L590.8 1163.4 L592.2 1163.4 L593.5 1163.5 L594.0 1163.5 M616.9 1164.1 L618.3 1164.0 L622.6 1163.9 L627.4 1163.7 L632.3 1163.5 L637.4 1163.2 L642.5 1163.0 L647.4 1162.7 L652.1 1162.4 L656.3 1162.2 L657.7 1162.1 M679.5 1161.0 L679.7 1161.0 L681.0 1161.1 L682.2 1161.2 L683.5 1161.3 L684.7 1161.3 L686.0 1161.4 L687.2 1161.4 L687.5 1161.4 M710.3 1159.2 L711.8 1159.1 L716.2 1158.9 L721.1 1158.8 L726.2 1158.7 L731.4 1158.6 L736.6 1158.5 L741.7 1158.4 L746.5 1158.2 L750.8 1158.1 L752.2 1158.0 M772.9 1155.4 L773.1 1155.4 L774.4 1155.3 L775.6 1155.3 L776.8 1155.2 L778.1 1155.2 L779.3 1155.1 L780.6 1155.1 L780.9 1155.1 M804.8 1154.5 L806.3 1154.4 L810.6 1154.2 L815.3 1153.9 L820.3 1153.6 L825.4 1153.2 L830.4 1152.9 L835.3 1152.5 L840.0 1152.1 L844.2 1151.7 L845.6 1151.6 M867.4 1149.1 L867.6 1149.1 L868.9 1149.0 L870.1 1148.9 L871.3 1148.9 L872.5 1148.8 L873.8 1148.8 L875.0 1148.7 L875.3 1148.7 M898.2 1147.8 L899.6 1147.7 L903.9 1147.7 L908.6 1147.8 L913.5 1147.8 L918.6 1147.8 L923.7 1147.9 L928.6 1147.8 L933.3 1147.7 L937.6 1147.6 L939.0 1147.5 M962.0 1143.8 L962.2 1143.7 L963.4 1143.6 L964.5 1143.4 L965.7 1143.3 L966.8 1143.1 L968.0 1143.0 L969.1 1142.8 L969.4 1142.8 M994.0 1139.8 L995.4 1139.6 L999.5 1138.9 L1004.0 1138.3 L1008.7 1137.6 L1013.5 1136.8 L1018.3 1136.0 L1023.0 1135.3 L1027.5 1134.5 L1031.6 1133.7 L1033.0 1133.5 M1056.7 1127.9 L1057.5 1127.8 L1058.5 1127.7 L1059.5 1127.6 L1060.5 1127.5 L1061.4 1127.3 L1062.4 1127.2 L1063.4 1127.1 L1064.2 1126.9 M1087.8 1119.4 L1089.3 1119.0 L1093.5 1117.7 L1098.0 1116.3 L1102.7 1114.8 L1107.6 1113.3 L1112.4 1111.7 L1117.1 1110.1 L1121.5 1108.4 L1125.6 1106.8 L1127.1 1106.1 M1150.2 1091.5 L1150.6 1091.3 L1151.6 1090.8 L1152.6 1090.4 L1153.6 1090.0 L1154.6 1089.6 L1155.6 1089.2 L1156.6 1088.8 L1157.1 1088.5 M1180.7 1071.8 L1182.4 1070.5 L1186.5 1067.6 L1190.8 1064.5 L1195.4 1061.2 L1200.1 1057.9 L1204.8 1054.5 L1209.3 1051.3 L1213.8 1048.1 L1217.9 1045.2 L1219.7 1043.9 M1244.6 1026.5 L1245.2 1026.0 L1246.0 1025.3 L1246.7 1024.7 L1247.5 1024.0 L1248.2 1023.4 L1249.0 1022.8 L1249.8 1022.1 L1250.4 1021.7 M1274.7 1009.0 L1276.3 1008.2 L1280.7 1006.2 L1285.4 1004.0 L1290.2 1001.7 L1295.2 999.5 L1300.1 997.4 L1304.8 995.5 L1309.1 993.9 L1313.0 992.7 L1314.3 992.4 M1338.7 1002.4 L1338.7 1002.5 L1339.5 1003.4 L1340.2 1004.3 L1340.9 1005.2 L1341.5 1006.1 L1342.2 1007.1 L1342.9 1008.1 L1343.2 1008.4 M1360.4 1033.7 L1361.5 1035.7 L1362.6 1037.7 L1363.7 1039.7 L1364.8 1041.8 L1365.9 1043.8 L1366.9 1045.8 L1368.0 1047.9 L1369.0 1050.0 L1370.1 1052.1 L1371.2 1054.3 L1372.4 1056.6 L1373.5 1058.8 L1374.7 1061.1 L1375.8 1063.4 L1376.9 1065.7 L1378.0 1068.0 L1379.1 1070.3 L1380.1 1072.6 M1389.2 1096.4 L1389.4 1096.8 L1389.9 1097.8 L1390.4 1098.8 L1390.9 1099.8 L1391.4 1100.7 L1391.9 1101.7 L1392.5 1102.7 L1392.7 1103.1 M1404.3 1127.5 L1404.5 1127.9 L1406.0 1130.4 L1407.6 1133.1 L1409.2 1135.7 L1410.9 1138.3 L1412.7 1140.9 L1414.5 1143.5 L1416.3 1145.9 L1418.1 1148.2 L1420.0 1150.4 L1421.6 1152.2 L1423.3 1153.9 L1425.0 1155.6 L1426.7 1157.2 L1428.5 1158.7 L1430.3 1160.2 L1432.1 1161.6 L1433.9 1163.0 L1435.6 1164.3 M1459.5 1177.3 L1459.8 1177.4 L1461.0 1177.7 L1462.1 1177.9 L1463.2 1178.0 L1464.3 1178.2 L1465.4 1178.3 L1466.6 1178.5 L1466.9 1178.5 M1491.8 1183.7 L1493.0 1183.9 L1497.0 1184.4 L1501.2 1185.0 L1505.5 1185.6 L1510.0 1186.1 L1514.5 1186.6 L1518.9 1187.1 L1523.2 1187.5 L1527.2 1187.9 L1528.5 1188.0 M1553.4 1189.4 L1553.9 1189.5 L1554.8 1189.5 L1555.6 1189.6 L1556.4 1189.6 L1557.1 1189.7 L1557.9 1189.7 L1558.7 1189.8 L1559.5 1189.8 L1560.4 1189.9 L1560.9 1189.9 M1585.8 1190.7 L1587.3 1190.7 L1591.5 1190.8 L1596.1 1191.0 L1600.8 1191.1 L1605.6 1191.3 L1610.4 1191.4 L1615.0 1191.5 L1619.5 1191.6 L1623.6 1191.7 L1624.9 1191.8 M1646.8 1191.8 L1647.7 1191.8 L1648.6 1191.8 L1649.6 1191.8 L1650.5 1191.8 L1651.4 1191.8 L1652.3 1191.8 L1653.3 1191.8 L1654.2 1191.8 M1678.7 1191.8 L1680.0 1191.8 L1684.2 1191.8 L1688.7 1191.8 L1693.4 1191.8 L1698.2 1191.8 L1703.0 1191.8 L1707.7 1191.8 L1712.2 1191.8 L1716.3 1191.8 L1717.6 1191.8 M1740.8 1191.8 L1741.7 1191.8 L1742.7 1191.8 L1743.6 1191.8 L1744.5 1191.8 L1745.4 1191.8 L1746.3 1191.8 L1747.3 1191.8 L1748.2 1191.8 M1772.6 1193.1 L1773.8 1193.1 L1777.6 1193.2 L1781.6 1193.3 L1785.7 1193.4 L1790.0 1193.5 L1794.3 1193.5 L1798.7 1193.6 L1803.0 1193.7 L1807.3 1193.7 L1809.1 1193.8" stroke="#008080" stroke-width="8.5"/>
</g>
<g font-size="80" text-anchor="middle">
<text x="153.5" y="1353">140</text>
<text x="568.5" y="1353">160</text>
<text x="983" y="1353">180</text>
<text x="1395.7" y="1353">200</text>
<text x="1810" y="1353">220</text>
</g>
<text x="659" y="1441" font-size="94.2">Temperature <tspan x="1153">(</tspan><tspan x="1186" y="1390" font-size="59">o</tspan><tspan x="1211" y="1441">C)</tspan></text>
<text transform="translate(99.5 973.8) rotate(-90)" font-size="74.5">Heat flow (mW/mg)</text>
<g fill="none" stroke-linecap="round" stroke-width="8.5">
<path d="M1349.5 94.4H1532.5" stroke="#000" stroke-width="8"/>
<path d="M1349.5 192.1H1386.5M1423.7 192.1H1461.5M1498.1 192.1H1531.8" stroke="#f00"/>
<path d="M1349.5 291.7H1361.5M1394.5 291.7H1404.5M1438.5 291.7H1450.5M1483.5 291.7H1494.5M1527.5 291.7H1531.5" stroke="#00f"/>
<path d="M1349.5 390.5H1393.3M1412.7 390.5H1422.3M1443.7 390.5H1486.8M1506.2 390.5H1517.3" stroke="#008080"/>
</g>
<g font-size="79.2">
<text x="1551.2" y="119.5">PTFE0</text>
<text x="1551.2" y="219.5">PTFE1</text>
<text x="1551.2" y="318.3">PTFE3</text>
<text x="1551.2" y="417">PTFE5</text>
</g>
</svg>
</body></html>
